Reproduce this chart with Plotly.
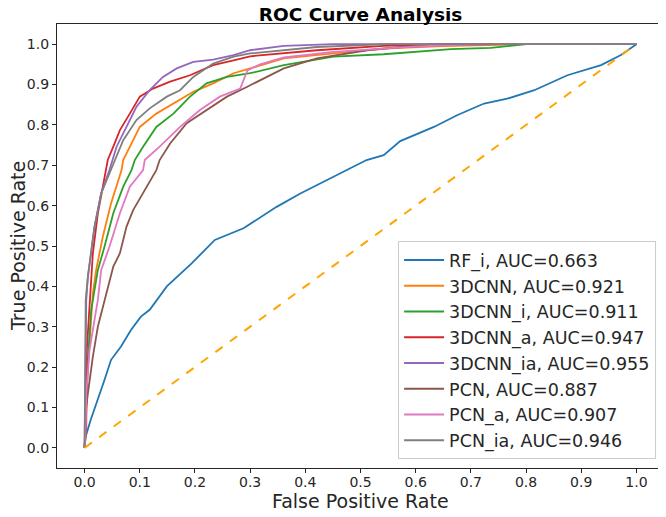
import plotly.graph_objects as go

# ---------------- data ----------------
names = ["RF_i", "3DCNN", "3DCNN_i", "3DCNN_a", "3DCNN_ia", "PCN", "PCN_a", "PCN_ia"]
aucs = [0.663, 0.921, 0.911, 0.947, 0.955, 0.887, 0.907, 0.946]
colors = ["#1f77b4", "#ff7f0e", "#2ca02c", "#d62728", "#9467bd", "#8c564b", "#e377c2", "#7f7f7f"]

fpr_rf_i = [0, 0.002, 0.011, 0.024, 0.036, 0.048, 0.066, 0.084, 0.102, 0.118, 0.127, 0.149, 0.194, 0.236,
            0.288, 0.348, 0.391, 0.451, 0.511, 0.542, 0.572, 0.633, 0.675, 0.724, 0.766, 0.815, 0.875,
            0.936, 0.954, 0.972, 1.0]
tpr_rf_i = [0, 0.028, 0.069, 0.119, 0.168, 0.218, 0.251, 0.292, 0.325, 0.342, 0.358, 0.400, 0.457, 0.515,
            0.544, 0.597, 0.630, 0.672, 0.713, 0.725, 0.760, 0.795, 0.824, 0.853, 0.865, 0.886, 0.923,
            0.948, 0.960, 0.973, 1.0]

fpr_3dcnn = [0, 0.002, 0.006, 0.012, 0.015, 0.021, 0.033, 0.048, 0.061, 0.067, 0.070, 0.082, 0.100, 0.130,
             0.161, 0.197, 0.233, 0.270, 0.300, 0.361, 0.451, 0.542, 0.65, 0.80, 1.0]
tpr_3dcnn = [0, 0.05, 0.20, 0.33, 0.383, 0.441, 0.523, 0.606, 0.663, 0.688, 0.713, 0.746, 0.795, 0.828,
             0.853, 0.882, 0.903, 0.928, 0.940, 0.965, 0.977, 0.989, 0.995, 1.0, 1.0]

fpr_3dcnn_i = [0, 0.003, 0.006, 0.012, 0.015, 0.024, 0.036, 0.052, 0.070, 0.085, 0.091, 0.106, 0.130, 0.161,
               0.191, 0.221, 0.258, 0.300, 0.361, 0.451, 0.542, 0.603, 0.664, 0.736, 0.80, 1.0]
tpr_3dcnn_i = [0, 0.10, 0.218, 0.342, 0.366, 0.440, 0.498, 0.581, 0.647, 0.688, 0.713, 0.746, 0.795, 0.828,
               0.870, 0.903, 0.919, 0.928, 0.948, 0.969, 0.975, 0.981, 0.988, 0.991, 1.0, 1.0]

fpr_3dcnn_a = [0, 0.003, 0.004, 0.009, 0.012, 0.015, 0.024, 0.033, 0.039, 0.042, 0.052, 0.064, 0.082, 0.100,
               0.124, 0.155, 0.191, 0.233, 0.270, 0.300, 0.421, 0.542, 0.65, 1.0]
tpr_3dcnn_a = [0, 0.05, 0.243, 0.366, 0.440, 0.482, 0.58, 0.65, 0.688, 0.713, 0.746, 0.787, 0.828, 0.870,
               0.890, 0.907, 0.923, 0.948, 0.960, 0.970, 0.985, 0.996, 1.0, 1.0]

fpr_3dcnn_ia = [0, 0.002, 0.003, 0.006, 0.018, 0.030, 0.045, 0.058, 0.076, 0.094, 0.118, 0.142, 0.167,
                0.197, 0.233, 0.270, 0.300, 0.361, 0.45, 1.0]
tpr_3dcnn_ia = [0, 0.25, 0.366, 0.424, 0.548, 0.630, 0.688, 0.746, 0.795, 0.845, 0.886, 0.919, 0.940,
                0.956, 0.962, 0.973, 0.985, 0.996, 1.0, 1.0]

fpr_pcn = [0, 0.002, 0.003, 0.006, 0.015, 0.024, 0.039, 0.052, 0.064, 0.076, 0.088, 0.112, 0.130, 0.136,
           0.155, 0.185, 0.221, 0.258, 0.294, 0.318, 0.361, 0.421, 0.512, 0.573, 0.65, 0.75, 1.0]
tpr_pcn = [0, 0.05, 0.102, 0.135, 0.226, 0.300, 0.383, 0.449, 0.482, 0.548, 0.589, 0.647, 0.688, 0.713,
           0.754, 0.804, 0.837, 0.870, 0.894, 0.910, 0.940, 0.965, 0.985, 0.993, 0.998, 1.0, 1.0]

fpr_pcn_a = [0, 0.002, 0.003, 0.009, 0.021, 0.024, 0.030, 0.045, 0.064, 0.082, 0.106, 0.109, 0.136, 0.173,
             0.209, 0.245, 0.282, 0.295, 0.318, 0.361, 0.451, 0.573, 0.664, 0.75, 1.0]
tpr_pcn_a = [0, 0.05, 0.135, 0.243, 0.342, 0.366, 0.440, 0.498, 0.581, 0.647, 0.688, 0.713, 0.746, 0.795,
             0.837, 0.870, 0.890, 0.935, 0.950, 0.967, 0.981, 0.992, 0.998, 1.0, 1.0]

fpr_pcn_ia = [0, 0.001, 0.002, 0.006, 0.018, 0.030, 0.036, 0.052, 0.070, 0.094, 0.118, 0.149, 0.173, 0.197,
              0.233, 0.270, 0.300, 0.421, 0.55, 1.0]
tpr_pcn_ia = [0, 0.20, 0.366, 0.424, 0.548, 0.630, 0.650, 0.700, 0.762, 0.812, 0.841, 0.870, 0.886, 0.919,
              0.952, 0.969, 0.977, 0.993, 1.0, 1.0]

fprs = [fpr_rf_i, fpr_3dcnn, fpr_3dcnn_i, fpr_3dcnn_a, fpr_3dcnn_ia, fpr_pcn, fpr_pcn_a, fpr_pcn_ia]
tprs = [tpr_rf_i, tpr_3dcnn, tpr_3dcnn_i, tpr_3dcnn_a, tpr_3dcnn_ia, tpr_pcn, tpr_pcn_a, tpr_pcn_ia]

chance_x = [0, 1]
chance_y = [0, 1]

tick_vals = [0.0, 0.1, 0.2, 0.3, 0.4, 0.5, 0.6, 0.7, 0.8, 0.9, 1.0]
tick_text = ["0.0", "0.1", "0.2", "0.3", "0.4", "0.5", "0.6", "0.7", "0.8", "0.9", "1.0"]

# ---------------- figure ----------------
FONT = "DejaVu Sans"
fig = go.Figure()
for i, nm in enumerate(names):
    fig.add_trace(go.Scatter(
        x=fprs[i], y=tprs[i], mode="lines",
        name=f"{nm}, AUC={aucs[i]:.3f}",
        legendgroup=nm,
        line=dict(color=colors[i], width=1.8),
    ))
fig.add_trace(go.Scatter(
    x=chance_x, y=chance_y, mode="lines", showlegend=False,
    line=dict(color="#ffa500", width=2, dash="dash"),
))

axis_common = dict(
    range=[-0.05, 1.05], tickvals=tick_vals, ticktext=tick_text,
    showgrid=False, zeroline=False, showline=True, mirror=True,
    linecolor="#262626", linewidth=1.2, automargin=False,
    ticks="outside", ticklen=4, tickwidth=1, tickcolor="#262626",
    tickfont=dict(family=FONT, size=14, color="#262626"),
)

# the page body adds an 8 px offset, so margins are compensated
fig.update_layout(
    width=666, height=517,
    margin=dict(l=49, r=10, t=16, b=57),
    paper_bgcolor="white", plot_bgcolor="white",
    font=dict(family=FONT, color="#262626"),
    title=dict(text="<b>ROC Curve Analysis</b>", x=352.5 / 666, xanchor="center",
               yref="container", y=1, yanchor="top", pad=dict(t=0, b=0),
               font=dict(family=FONT, size=18.5, color="black")),
    xaxis=dict(axis_common, ticklabelstandoff=-3),
    yaxis=axis_common,
    legend=dict(
        x=0.987, xanchor="right", y=0.02, yanchor="bottom",
        bgcolor="rgba(255,255,255,0.85)", bordercolor="#cccccc", borderwidth=1,
        font=dict(family=FONT, size=17.5, color="#262626"),
        tracegroupgap=0, itemwidth=40,
    ),
    annotations=[
        dict(text="False Positive Rate", xref="paper", yref="paper", x=0.5, y=-33 / 444,
             xanchor="center", yanchor="middle", showarrow=False,
             font=dict(family=FONT, size=19, color="#262626")),
        dict(text="True Positive Rate", xref="paper", yref="paper", x=-39 / 607, y=0.5,
             xanchor="center", yanchor="middle", textangle=-90, showarrow=False,
             font=dict(family=FONT, size=19, color="#262626")),
    ],
)

fig.write_html("out.html")
